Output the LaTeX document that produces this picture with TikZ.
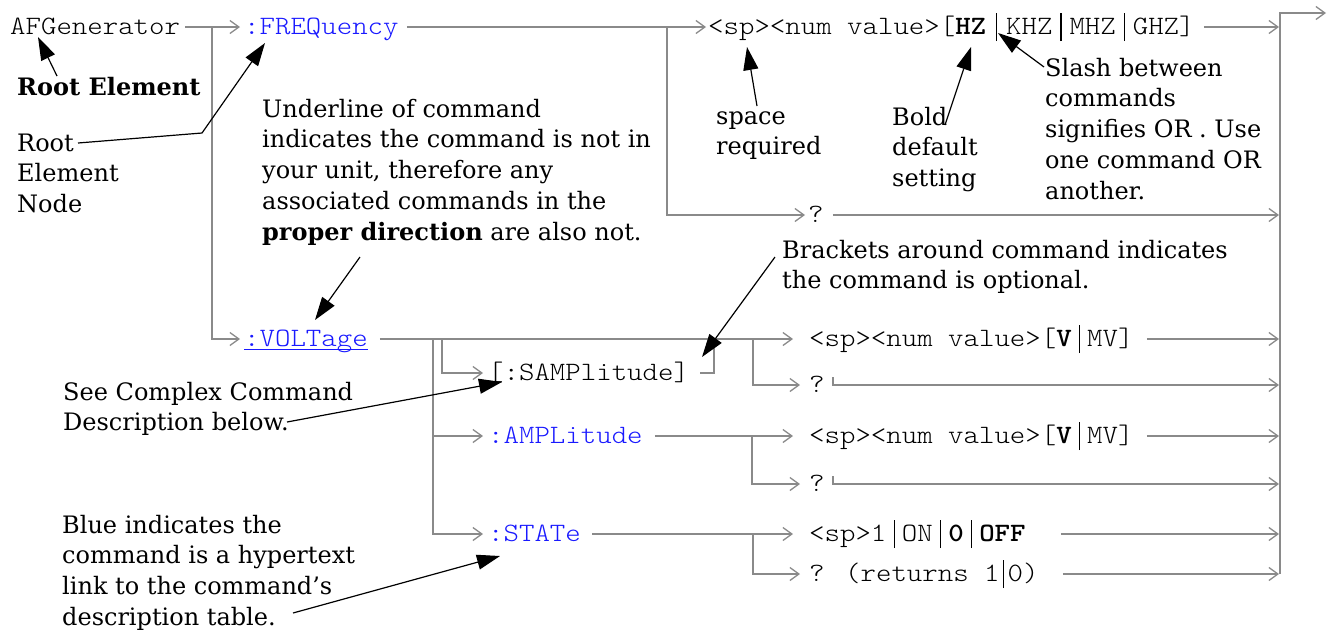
\documentclass[tikz,border=0pt]{standalone}
\usepackage{fontspec}
\setmainfont{DejaVu Serif}
\newfontfamily\monof{lmmonolt10-regular.otf}[BoldFont=lmmonolt10-bold.otf, FakeStretch=1.11]
\usetikzlibrary{arrows.meta}
\definecolor{cblue}{RGB}{25,25,255}
\definecolor{cgray}{RGB}{138,138,138}
\newcommand\vb[1][15.5pt]{\makebox[#1]{\rule[-7pt]{1.2pt}{28pt}}}
\newcommand\fs{\rule{0pt}{18.5pt}}
\begin{document}
\begin{tikzpicture}[x=1pt,y=-1pt,
  mono/.style={font=\monof\fontsize{26.5}{30}\selectfont, inner sep=0pt, text height=14pt, text depth=0pt, anchor=west},
  cmd/.style={mono, text=cblue},
  note/.style={font=\fontsize{24}{30.7}\selectfont, inner sep=0pt, align=left, anchor=north west},
  conn/.style={draw=cgray, line width=1.8pt},
  carr/.style={conn, -{Straight Barb[length=9pt,width=13pt,line width=1.3pt]}},
  ann/.style={draw=black, line width=1.2pt, -{Triangle[length=23pt,width=15pt]}},
  annl/.style={draw=black, line width=1.2pt}]
\useasboundingbox (0,0) rectangle (1335,633);
% command nodes
\node[mono] (afg) at (10,27) {AFGenerator};
\node[cmd] (freq) at (244,27) {:FREQuency};
\node[mono] (hz) at (708,27) {<sp><num value>[\textbf{HZ}\vb[20pt]KHZ\vb[17pt]MHZ\vb[17pt]GHZ]};
\node[mono] (q1) at (808,215) {?};
\node[cmd] (volt) at (244,339) {:VOLTage};
\draw[cblue, line width=1.5pt] ([yshift=-3.5pt]volt.south west) -- ([yshift=-3.5pt]volt.south east);
\node[mono] (samp) at (488,373) {[:SAMPlitude]};
\node[mono] (vmv) at (809,339) {<sp><num value>[\textbf{V}\vb MV]};
\node[mono] (vq) at (809,385) {?};
\node[cmd] (amp) at (488,436) {:AMPLitude};
\node[mono] (amv) at (809,436) {<sp><num value>[\textbf{V}\vb MV]};
\node[mono] (aq) at (809,484) {?};
\node[cmd] (stt) at (488,534) {:STATe};
\node[mono] (son) at (809,534) {<sp>1\vb ON\vb\textbf{0}\vb\textbf{OFF}};
\node[mono] (sq) at (809,574) {? (returns 1\vb[8pt]0)};
% junctions
\coordinate (j1) at (212,27);
\coordinate (j2) at (667,27);
\coordinate (xt) at (1279,0);
\coordinate (xtop) at (1280,13);
\coordinate (xbot) at (1280,574);
\coordinate (xout) at (1326,13);
\coordinate (j3) at (433,339);
\coordinate (j4) at (442,339);
\coordinate (j5) at (714,339);
\coordinate (j6) at (753,339);
\coordinate (j7) at (752,436);
\coordinate (j8) at (753,534);
% connectors
\draw[carr] ([xshift=5pt]afg.east) -- ([xshift=-4pt]freq.west);
\draw[carr] (j1) |- ([xshift=-4pt]volt.west);
\draw[carr] ([xshift=8pt]freq.east) -- ([xshift=-2pt]hz.west);
\draw[carr] (j2) |- ([xshift=-3pt]q1.west);
\draw[carr] ([xshift=9pt]hz.east) -- (xt |- hz.west);
\draw[carr] ([xshift=9pt]q1.east) -- (xt |- q1.west);
\draw[carr] (xbot) -- (xtop) -- (xout);
\draw[carr] ([xshift=12pt]volt.east) -- ([xshift=-16pt]vmv.west);
\draw[carr] (j3) |- ([xshift=-5pt]amp.west);
\draw[carr] (j3) |- ([xshift=-5pt]stt.west);
\draw[carr] (j4) |- ([xshift=-5pt]samp.west);
\draw[conn] ([xshift=11pt]samp.east) -| (j5);
\draw[carr] (j6) |- ([xshift=-9pt]vq.west);
\draw[carr] ([xshift=13pt]vmv.east) -- (xt |- vmv.west);
\draw[carr] ([xshift=8pt,yshift=8pt]vq.east) -- ([xshift=8pt]vq.east) -- (xt |- vq.west);
\draw[carr] ([xshift=12pt]amp.east) -- ([xshift=-16pt]amv.west);
\draw[carr] (j7) |- ([xshift=-9pt]aq.west);
\draw[carr] ([xshift=13pt]amv.east) -- (xt |- amv.west);
\draw[carr] ([xshift=8pt,yshift=8pt]aq.east) -- ([xshift=8pt]aq.east) -- (xt |- aq.west);
\draw[carr] ([xshift=11pt]stt.east) -- ([xshift=-16pt]son.west);
\draw[carr] (j8) |- ([xshift=-9pt]sq.west);
\draw[carr] ([xshift=35pt]son.east) -- (xt |- son.west);
\draw[carr] ([xshift=24pt]sq.east) -- (xt |- sq.west);
% annotations
\node[note, anchor=base west, font=\bfseries\fontsize{24}{30.7}\selectfont] (rootel) at (17,95) {Root Element};
\node[note] (ren) at (17,132.5) {\fs Root\\Element\\Node};
\node[note] (undl) at (262,98.5) {\fs Underline of command\\indicates the command is not in\\your unit, therefore any\\associated commands in the\\\textbf{proper direction} are also not.};
\node[note] (spc) at (716,105.5) {\fs space\\required};
\node[note] (bld) at (892,106.5) {\fs Bold\\default\\setting};
\node[note] (sls) at (1045,57.5) {\fs Slash between\\commands\\signifies OR . Use\\one command OR\\another.};
\node[note] (brk) at (782,239.5) {\fs Brackets around command indicates\\the command is optional.};
\node[note] (see) at (63,381.5) {\fs See Complex Command\\Description below.};
\node[note] (blu) at (62,514.5) {\fs Blue indicates the\\command is a hypertext\\link to the command’s\\description table.};
% annotation arrows
\coordinate (a1s) at (57,76); \coordinate (a1t) at (38,37);
\draw[ann] (a1s) -- (a1t);
\coordinate (a2s) at (78,143); \coordinate (a2m) at (202,133); \coordinate (a2t) at (265,43);
\draw[ann] (a2s) -- (a2m) -- (a2t);
\coordinate (a3s) at (360,257); \coordinate (a3t) at (315,320);
\draw[ann] (a3s) -- (a3t);
\coordinate (a4s) at (757,106); \coordinate (a4t) at (747,47);
\draw[ann] (a4s) -- (a4t);
\coordinate (a5s) at (945,125); \coordinate (a5t) at (971,47);
\draw[ann] (a5s) -- (a5t);
\coordinate (a6s) at (1044,67); \coordinate (a6t) at (998,33);
\draw[ann] (a6s) -- (a6t);
\coordinate (a7s) at (775,257); \coordinate (a7t) at (702,357);
\draw[ann] (a7s) -- (a7t);
\coordinate (a8s) at (287,422); \coordinate (a8t) at (502,382);
\draw[ann] (a8s) -- (a8t);
\coordinate (a9s) at (293,613); \coordinate (a9t) at (500,556);
\draw[ann] (a9s) -- (a9t);
\end{tikzpicture}
\end{document}
